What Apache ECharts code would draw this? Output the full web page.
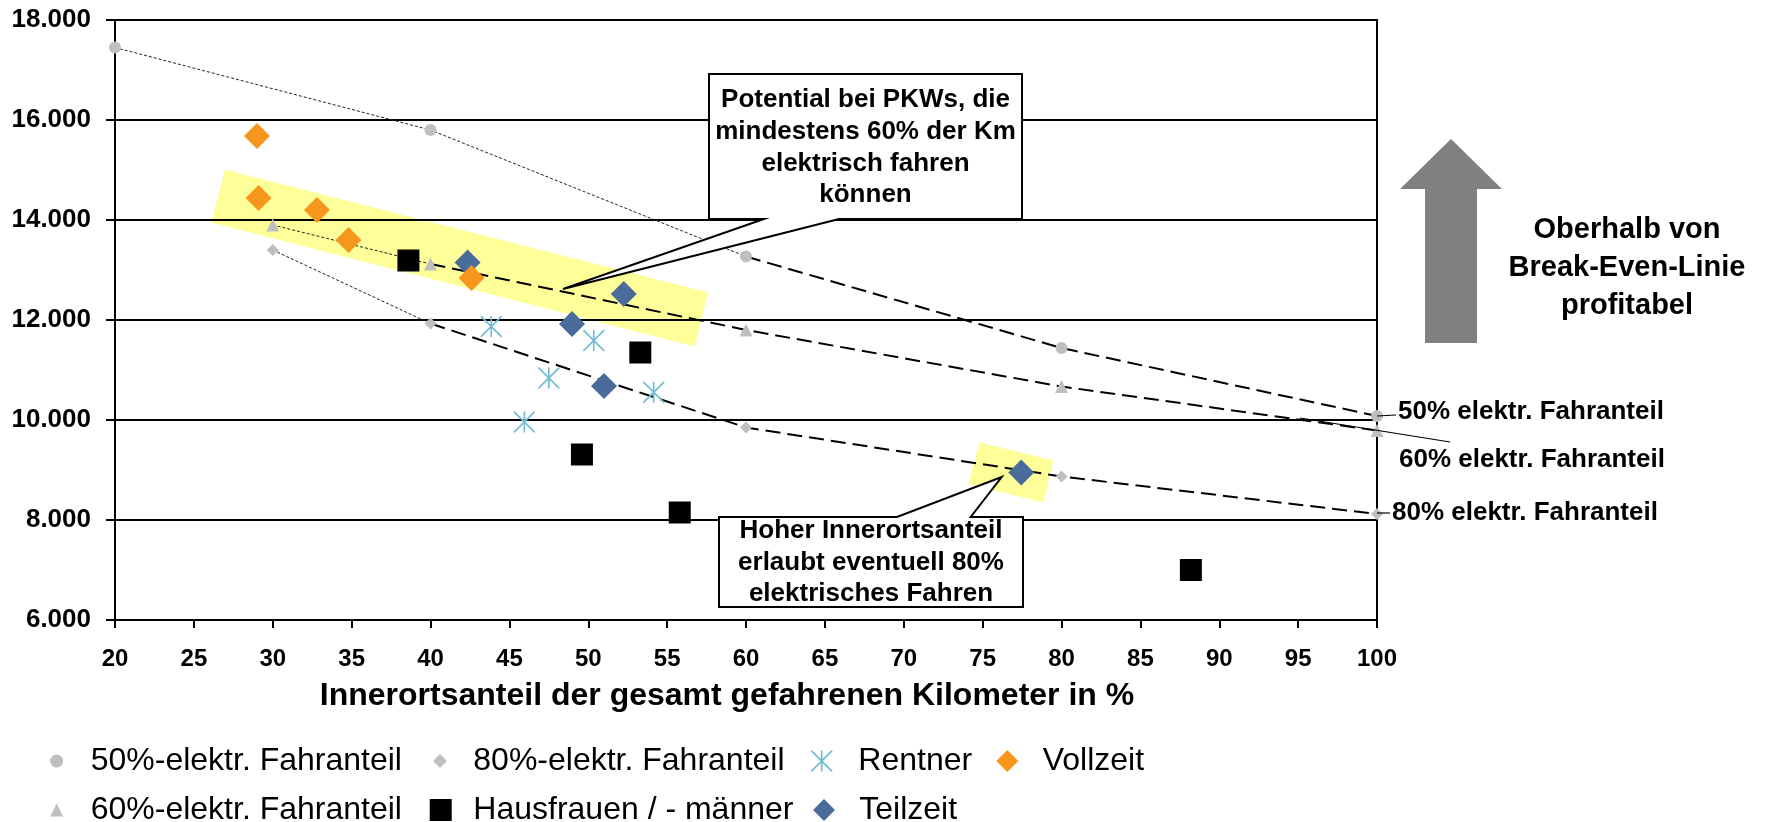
<!DOCTYPE html>
<html>
<head>
<meta charset="utf-8">
<script src="https://cdn.jsdelivr.net/npm/echarts@6/dist/echarts.min.js"></script>
<style>
  html, body { margin: 0; padding: 0; background: #fff; }
  #chart { width: 1775px; height: 822px; }
</style>
</head>
<body>
<div id="chart"></div>
<script>
// ---------- data ----------
const seriesNames = ['50%-elektr. Fahranteil', '60%-elektr. Fahranteil', '80%-elektr. Fahranteil',
                     'Rentner', 'Hausfrauen / - männer', 'Teilzeit', 'Vollzeit'];

const x50 = [20, 40, 60, 80, 100];
const y50 = [17450, 15800, 13270, 11440, 10080];
const x60 = [30, 40, 60, 80, 100];
const y60 = [13900, 13120, 11800, 10670, 9790];
const x80 = [30, 40, 60, 80, 100];
const y80 = [13400, 11930, 9850, 8870, 8120];

const xRentner = [43.85, 47.5, 45.95, 50.35, 54.15];
const yRentner = [11870, 10840, 9960, 11590, 10555];
const xHaus = [38.6, 53.3, 49.6, 55.8, 88.2];
const yHaus = [13190, 11350, 9310, 8150, 7000];
const xTeil = [42.35, 48.97, 52.25, 51.0, 77.45];
const yTeil = [13150, 11920, 12520, 10680, 8950];
const xVoll = [29.0, 29.1, 32.8, 34.8, 42.6];
const yVoll = [15680, 14440, 14200, 13600, 12840];

// highlight bands (corners in data coordinates)
const bandMain = [[26.97, 15004], [57.6, 12550], [56.75, 11470], [26.1, 13950]];
const bandSmall = [[74.81, 9550], [79.49, 9196], [78.86, 8350], [74.08, 8718]];

const curveLabels = ['50% elektr. Fahranteil', '60% elektr. Fahranteil', '80% elektr. Fahranteil'];
const calloutPotential = 'Potential bei PKWs, die\nmindestens 60% der Km\nelektrisch fahren\nkönnen';
const calloutHoher = 'Hoher Innerortsanteil\nerlaubt eventuell 80%\nelektrisches Fahren';
const profitText = 'Oberhalb von\nBreak-Even-Linie\nprofitabel';
const xTitle = 'Innerortsanteil der gesamt gefahrenen Kilometer in %';

// ---------- helpers ----------
const FONT = '"Liberation Sans", Arial, sans-serif';
const pts = (xs, ys) => xs.map((x, i) => [x, ys[i]]);
const ASTERISK = 'path://M46,0L54,0L54,100L46,100Z' +
  'M2.83,-2.83L102.83,97.17L97.17,102.83L-2.83,2.83Z' +
  'M102.83,2.83L2.83,102.83L-2.83,97.17L97.17,-2.83Z';

const GREY = '#bfbfbf';
const thinLine = { color: '#222', width: 1, type: [3, 2] };
const thickLine = { color: '#000', width: 2, type: [15, 7] };

function lineSeries(data, style) {
  return { type: 'line', data: data, symbol: 'none', lineStyle: style, z: 1, silent: true, animation: false };
}
function scatter(name, data, symbol, size, color) {
  return { name: name, type: 'scatter', data: data, symbol: symbol, symbolSize: size,
           itemStyle: { color: color, opacity: 1 }, z: 3, silent: true };
}

const p50 = pts(x50, y50), p60 = pts(x60, y60), p80 = pts(x80, y80);

// legend layout: [name index, row, icon centre x, text start x, icon size]
const legendLayout = [
  [0, 0, 56.7, 90.7, 13], [2, 0, 440, 473.3, 14], [3, 0, 821.7, 858.3, 22], [6, 0, 1007.3, 1042.7, 22],
  [1, 1, 56.7, 90.7, 13], [4, 1, 440.7, 473.3, 22], [5, 1, 824, 859.3, 22]
];
const rowCenters = [761, 810];
const legends = legendLayout.map(([ni, row, cx, tx, s]) => ({
  data: [seriesNames[ni]], orient: 'horizontal', selectedMode: false,
  left: cx - s / 2, top: rowCenters[row] - 18, padding: 0, itemGap: 0,
  itemWidth: s, itemHeight: s,
  textStyle: { fontFamily: FONT, fontSize: 32, color: '#000', lineHeight: 36,
               padding: [0, 0, 0, Math.max(0, tx - (cx + s / 2) - 5)] }
}));

const bands = [bandMain, bandSmall];

const boldText = (size) => ({ fontFamily: FONT, fontWeight: 'bold', fontSize: size, fill: '#000' });

const option = {
  animation: false,
  backgroundColor: '#fff',
  grid: { left: 115, right: 398, top: 20, bottom: 202, show: true, borderColor: '#000', borderWidth: 2,
          backgroundColor: 'transparent' },
  legend: legends,
  xAxis: {
    type: 'value', min: 20, max: 100, interval: 5,
    axisLine: { show: true, onZero: false, lineStyle: { color: '#000', width: 2 } },
    axisTick: { show: true, length: 8, lineStyle: { color: '#000', width: 2 } },
    axisLabel: { color: '#000', fontFamily: FONT, fontWeight: 'bold', fontSize: 24, margin: 27 },
    splitLine: { show: false },
    name: xTitle, nameLocation: 'middle', nameGap: 60,
    nameTextStyle: { color: '#000', fontFamily: FONT, fontWeight: 'bold', fontSize: 32, padding: [0, 38, 0, 0] }
  },
  yAxis: {
    type: 'value', min: 6000, max: 18000, interval: 2000,
    axisLine: { show: true, onZero: false, lineStyle: { color: '#000', width: 2 } },
    axisTick: { show: true, length: 9, lineStyle: { color: '#000', width: 2 } },
    axisLabel: { color: '#000', fontFamily: FONT, fontWeight: 'bold', fontSize: 26, margin: 24,
                 formatter: v => (v / 1000).toFixed(3) },
    splitLine: { show: true, lineStyle: { color: '#000', width: 2 } }
  },
  series: [
    {
      type: 'custom', z: -1, silent: true,
      data: bands.map((b, i) => [b[0][0], b[0][1], i]),
      renderItem: (params, api) => ({
        type: 'polygon',
        shape: { points: bands[api.value(2)].map(p => api.coord(p)) },
        style: { fill: '#ffff99' }
      })
    },
    lineSeries(p50.slice(0, 3), thinLine),
    lineSeries(p50.slice(2), thickLine),
    lineSeries(p60.slice(0, 2), thinLine),
    lineSeries(p60.slice(1), thickLine),
    lineSeries(p80.slice(0, 2), thinLine),
    lineSeries(p80.slice(1), thickLine),
    scatter(seriesNames[0], p50, 'circle', 12, GREY),
    scatter(seriesNames[1], p60, 'triangle', 13, GREY),
    scatter(seriesNames[2], p80, 'diamond', 12, GREY),
    scatter(seriesNames[3], pts(xRentner, yRentner), ASTERISK, 22, '#72bdd5'),
    scatter(seriesNames[4], pts(xHaus, yHaus), 'rect', 22, '#000'),
    scatter(seriesNames[5], pts(xTeil, yTeil), 'diamond', 26, '#4a6c9b'),
    scatter(seriesNames[6], pts(xVoll, yVoll), 'diamond', 26, '#f7961c')
  ],
  graphic: [
    { type: 'polygon', z: 100, shape: { points: [[709, 74], [1022, 74], [1022, 219], [839, 219], [563, 289], [764, 219], [709, 219]] },
      style: { fill: '#fff', stroke: '#000', lineWidth: 2 } },
    { type: 'text', z: 101, x: 865.5, y: 147.5,
      style: Object.assign(boldText(26), { text: calloutPotential, align: 'center', verticalAlign: 'middle', lineHeight: 31.7 }) },
    { type: 'polygon', z: 100, shape: { points: [[719, 517], [897, 517], [1001.7, 477], [970.7, 517], [1023, 517], [1023, 607], [719, 607]] },
      style: { fill: '#fff', stroke: '#000', lineWidth: 2 } },
    { type: 'text', z: 101, x: 871, y: 562.5,
      style: Object.assign(boldText(26), { text: calloutHoher, align: 'center', verticalAlign: 'middle', lineHeight: 31.5 }) },
    { type: 'polygon', z: 100, shape: { points: [[1451, 139], [1502, 189], [1477, 189], [1477, 343], [1425, 343], [1425, 189], [1400, 189]] },
      style: { fill: '#808080' } },
    { type: 'text', z: 101, x: 1627, y: 268,
      style: Object.assign(boldText(29), { text: profitText, align: 'center', verticalAlign: 'middle', lineHeight: 38 }) },
    { type: 'line', z: 100, shape: { x1: 1377, y1: 416, x2: 1396, y2: 415 }, style: { stroke: '#000', lineWidth: 1.2 } },
    { type: 'line', z: 100, shape: { x1: 1300, y1: 418, x2: 1450, y2: 442 }, style: { stroke: '#000', lineWidth: 1.2 } },
    { type: 'line', z: 100, shape: { x1: 1377, y1: 513, x2: 1390, y2: 513 }, style: { stroke: '#000', lineWidth: 1.2 } },
    { type: 'text', z: 101, x: 1398, y: 412, style: Object.assign(boldText(26), { text: curveLabels[0], align: 'left', verticalAlign: 'middle' }) },
    { type: 'text', z: 101, x: 1399, y: 460, style: Object.assign(boldText(26), { text: curveLabels[1], align: 'left', verticalAlign: 'middle' }) },
    { type: 'text', z: 101, x: 1392, y: 513, style: Object.assign(boldText(26), { text: curveLabels[2], align: 'left', verticalAlign: 'middle' }) }
  ]
};

const chart = echarts.init(document.getElementById('chart'), null, { renderer: 'canvas' });
chart.setOption(option);
</script>
</body>
</html>
